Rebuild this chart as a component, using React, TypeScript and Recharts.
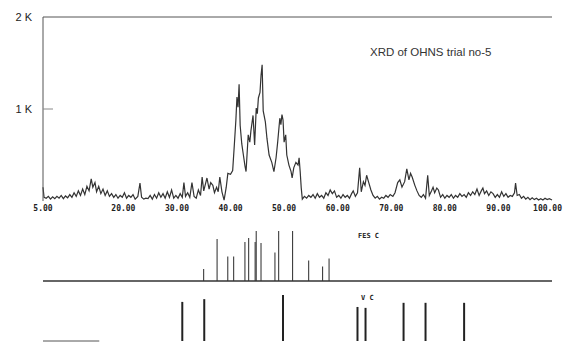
import {
  LineChart, Line, BarChart, Bar, XAxis, YAxis, ReferenceLine,
} from "recharts";

// 2-theta positions and counts of the measured trace
const twoTheta = [
  5.0, 5.2, 5.6, 6.0, 6.4, 6.8, 7.2, 7.6, 8.0, 8.4, 8.8, 9.2, 9.6, 10.0, 10.4, 10.8, 11.2, 11.6, 12.0, 12.4,
  12.8, 13.2, 13.6, 14.0, 14.3, 14.7, 15.0, 15.4, 15.8, 16.2, 16.6, 17.0, 17.4, 17.8, 18.2, 18.6, 19.0, 19.4, 19.8, 20.2,
  20.6, 21.0, 21.4, 21.8, 22.2, 22.7, 23.1, 23.4, 23.8, 24.2, 24.6, 25.0, 25.4, 25.8, 26.2, 26.6, 27.0, 27.4, 27.8, 28.2,
  28.6, 29.0, 29.4, 29.8, 30.2, 30.6, 31.0, 31.3, 31.6, 32.0, 32.4, 32.8, 33.2, 33.6, 34.0, 34.4, 34.7, 35.0, 35.3, 35.6,
  36.0, 36.3, 36.7, 37.0, 37.4, 37.7, 38.0, 38.4, 38.8, 39.2, 39.5, 40.0, 40.4, 40.7, 41.0, 41.2, 41.4, 41.6, 41.8, 42.1,
  42.4, 42.7, 42.9, 43.3, 43.6, 43.8, 44.2, 44.5, 44.8, 45.0, 45.2, 45.5, 45.7, 45.9, 46.1, 46.5, 46.8, 47.2, 47.7, 48.1,
  48.5, 48.8, 49.2, 49.4, 49.6, 49.8, 50.0, 50.3, 50.5, 50.9, 51.3, 51.5, 51.8, 52.2, 52.6, 52.8, 53.0, 53.2, 53.4, 53.8,
  54.2, 54.6, 55.0, 55.4, 55.8, 56.2, 56.6, 57.0, 57.4, 57.8, 58.2, 58.6, 59.0, 59.4, 59.8, 60.2, 60.6, 61.0, 61.4, 61.8,
  62.2, 62.6, 62.9, 63.3, 63.7, 64.1, 64.4, 64.8, 65.1, 65.4, 65.8, 66.2, 66.6, 67.0, 67.4, 67.8, 68.2, 68.6, 69.0, 69.4,
  69.8, 70.3, 70.7, 71.2, 71.6, 72.0, 72.5, 72.9, 73.3, 73.6, 73.9, 74.4, 74.8, 75.2, 75.6, 76.0, 76.4, 76.8, 77.1, 77.5,
  77.8, 78.1, 78.5, 78.8, 79.2, 79.6, 80.0, 80.4, 80.8, 81.2, 81.6, 82.0, 82.4, 82.8, 83.2, 83.6, 84.0, 84.4, 84.8, 85.2,
  85.6, 86.0, 86.4, 86.8, 87.1, 87.4, 87.8, 88.2, 88.6, 89.0, 89.4, 89.8, 90.2, 90.6, 91.0, 91.4, 91.8, 92.2, 92.6, 93.0,
  93.2, 93.5, 93.9, 94.3, 94.7, 95.1, 95.5, 95.9, 96.3, 96.7, 97.1, 97.5, 97.9, 98.3, 98.7, 99.1, 99.5, 100.0,
];
const counts = [
  150, 40, 30, 50, 20, 45, 25, 50, 30, 60, 25, 55, 35, 70, 40, 90, 50, 110, 60, 130,
  70, 160, 110, 240, 150, 200, 100, 160, 80, 130, 60, 110, 50, 80, 40, 70, 30, 60, 40, 90,
  30, 60, 40, 70, 20, 50, 195, 40, 20, 30, 25, 60, 20, 70, 30, 90, 40, 80, 30, 100,
  40, 120, 30, 60, 30, 80, 40, 200, 50, 90, 40, 200, 50, 30, 120, 60, 260, 110, 180, 250,
  130, 200, 170, 90, 150, 100, 260, 100, 10, 150, 300, 290, 330, 600, 880, 1130, 1020, 1270, 820, 620,
  500, 380, 320, 720, 640, 760, 930, 610, 1010, 950, 1120, 1180, 1370, 1480, 980, 860, 680, 500, 420, 320,
  470, 640, 900, 830, 940, 880, 640, 720, 500, 390, 320, 250, 360, 420, 390, 470, 320, 140, 20, 50,
  30, 60, 40, 70, 30, 80, 40, 60, 30, 90, 60, 120, 80, 110, 40, 60, 30, 70, 40, 60,
  30, 80, 110, 50, 90, 360, 100, 210, 170, 280, 200, 120, 60, 30, 50, 20, 40, 30, 60, 40,
  70, 50, 90, 200, 230, 150, 210, 350, 230, 300, 260, 170, 110, 60, 40, 70, 30, 280, 60, 110,
  150, 90, 140, 120, 40, 70, 30, 60, 40, 70, 30, 60, 40, 80, 50, 70, 40, 90, 60, 100,
  70, 130, 60, 110, 140, 80, 110, 60, 100, 80, 40, 70, 40, 100, 50, 80, 40, 60, 50, 90,
  195, 60, 70, 30, 50, 20, 40, 15, 35, 15, 30, 10, 25, 10, 30, 15, 25, 10,
];

const xTicks = [5, 20, 30, 40, 50, 60, 70, 80, 90, 100];
const yTicks = [1000, 2000];

// reference stick patterns (relative heights)
const fescPos = [35.0, 37.5, 39.5, 40.6, 42.7, 43.4, 44.6, 44.8, 45.7, 48.3, 49.0, 51.6, 54.6, 57.2, 58.4];
const fescHeight = [24, 84, 49, 49, 78, 86, 78, 100, 76, 57, 100, 100, 41, 29, 45];
const vcPos = [31.0, 35.1, 49.8, 63.7, 65.2, 72.3, 76.4, 83.6];
const vcHeight = [85, 91, 100, 74, 72, 83, 83, 83];

const trace = twoTheta.map((t, i) => ({ t, c: counts[i] }));
const fesc = fescPos.map((p, i) => ({ p, h: fescHeight[i] }));
const vc = vcPos.map((p, i) => ({ p, h: vcHeight[i] }));

const mono = "'DejaVu Sans Mono', monospace";
const sans = "'Liberation Sans', Arial, sans-serif";

function YTick(props: any) {
  const { x, y, payload } = props;
  const axisX = x + 11;
  return (
    <g>
      {payload.value === 1000 && <line x1={axisX} x2={axisX + 10} y1={y} y2={y} stroke="#888" />}
      <text x={x} y={y} dy={4} textAnchor="end" fontSize={11} fill="#222" fontFamily={sans}>
        {payload.value / 1000} K
      </text>
    </g>
  );
}

function XTick(props: any) {
  const { x, y, payload } = props;
  const last = payload.value === 100;
  return (
    <text x={last ? x + 10 : x} y={y} dy={7} textAnchor={last ? "end" : "middle"} fontSize={8}
      fontWeight="bold" fill="#222" fontFamily={mono}>
      {payload.value.toFixed(2)}
    </text>
  );
}

export default function App() {
  return (
    <div style={{ position: "fixed", left: 0, top: 0, width: 563, height: 342, background: "#fff", overflow: "hidden" }}>
      <div style={{ position: "absolute", left: 0, top: 0 }}>
        <LineChart width={563} height={220} data={trace} margin={{ top: 17, right: 11, left: 0, bottom: 0 }}>
          <XAxis dataKey="t" type="number" domain={[5, 100]} ticks={xTicks} interval={0} height={19}
            axisLine={false} tickLine={false} tickSize={0} tickMargin={3} tick={<XTick />} />
          <YAxis domain={[0, 2000]} ticks={yTicks} width={43} axisLine={{ stroke: "#555" }}
            tickLine={false} tickSize={0} tickMargin={11} tick={<YTick />} />
          <YAxis yAxisId="r" orientation="right" width={0} axisLine={{ stroke: "#555" }} tick={false} tickLine={false} />
          <ReferenceLine y={2000} stroke="#555" />
          <Line dataKey="c" stroke="#333" strokeWidth={1.2} dot={false} isAnimationActive={false} />
        </LineChart>
      </div>
      <div style={{ position: "absolute", left: 0, top: 220 }}>
        <BarChart width={563} height={62} data={fesc} margin={{ top: 11, right: 11, left: 43, bottom: 1 }}>
          <XAxis dataKey="p" type="number" domain={[5, 100]} hide />
          <YAxis domain={[0, 100]} hide />
          <ReferenceLine y={0} stroke="#333" strokeWidth={1.5} />
          <Bar dataKey="h" fill="#222" barSize={2} isAnimationActive={false} />
        </BarChart>
      </div>
      <div style={{ position: "absolute", left: 0, top: 282 }}>
        <BarChart width={563} height={60} data={vc} margin={{ top: 13, right: 11, left: 43, bottom: 1 }}>
          <XAxis dataKey="p" type="number" domain={[5, 100]} hide />
          <YAxis domain={[0, 100]} hide />
          <ReferenceLine segment={[{ x: 5, y: 0 }, { x: 15.5, y: 0 }]} stroke="#555" />
          <Bar dataKey="h" fill="#222" barSize={2} isAnimationActive={false} />
        </BarChart>
      </div>
      <div style={{ position: "absolute", left: 370, top: 46, fontFamily: sans, fontSize: 11.5, color: "#333", whiteSpace: "nowrap" }}>
        XRD of OHNS trial no-5
      </div>
      <div style={{ position: "absolute", left: 358, top: 232, fontFamily: mono, fontSize: 7, fontWeight: "bold", color: "#222" }}>
        FES C
      </div>
      <div style={{ position: "absolute", left: 361, top: 294, fontFamily: mono, fontSize: 7, fontWeight: "bold", color: "#222" }}>
        V C
      </div>
    </div>
  );
}
